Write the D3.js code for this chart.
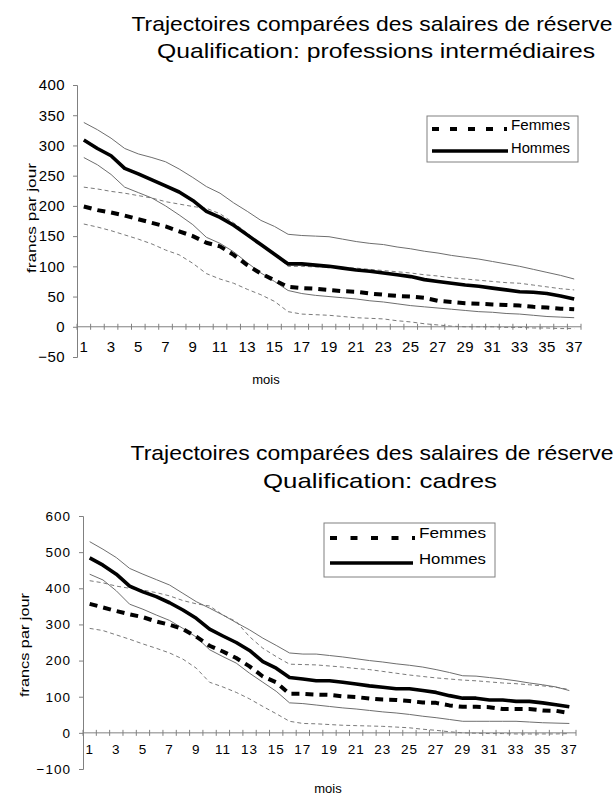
<!DOCTYPE html>
<html>
<head>
<meta charset="utf-8">
<script src="https://cdn.jsdelivr.net/npm/d3@7/dist/d3.min.js"></script>
<style>
  html, body { margin: 0; padding: 0; background: #fff; }
  svg { display: block; font-family: "Liberation Sans", Arial, sans-serif; }
</style>
</head>
<body>
<svg id="chart" width="614" height="798"></svg>
<script>
// Months since the start of the unemployment spell
const mois = d3.range(1, 38);

// Professions intermédiaires: mean reservation wage and confidence bounds (francs per day)
const intHommesMoy  = [309,295,283,262,253,243,233,223,209,191,181,168,152,136,120,104,104,102,100,97,94,92,89,86,83,78,75,72,69,67,64,61,58,57,55,51,46];
const intHommesHaut = [338,326,312,295,286,280,273,261,247,232,221,205,191,176,166,153,151,150,149,145,141,138,136,132,129,125,122,118,115,112,108,104,100,95,90,85,79];
const intHommesBas  = [280,268,252,231,222,213,200,185,169,148,138,124,106,89,75,60,55,52,50,48,46,43,41,38,35,33,31,29,27,25,24,22,21,19,17,16,15];
const intFemmesMoy  = [199,193,189,184,178,172,166,158,150,139,133,119,102,88,77,66,64,63,61,59,58,55,53,51,50,48,43,41,39,38,37,36,35,33,32,30,29];
const intFemmesHaut = [231,228,224,221,217,213,207,203,199,196,187,172,155,137,119,100,100,99,99,98,97,95,93,91,89,86,84,81,79,77,75,73,72,69,66,63,61];
const intFemmesBas  = [170,165,159,152,145,137,127,119,105,88,79,72,62,53,42,25,21,20,19,17,15,14,13,10,8,5,3,1,0,0,0,-1,-1,-2,-2,-3,-3];

// Cadres
const cadHommesMoy  = [484,464,439,406,390,377,360,340,317,287,268,250,228,197,179,153,149,144,144,140,135,130,126,122,122,117,112,103,96,96,91,91,87,87,83,78,72];
const cadHommesHaut = [529,508,485,455,439,424,409,386,363,345,326,305,285,262,242,221,218,218,214,210,205,200,196,191,187,182,175,167,158,157,153,149,144,138,133,127,117];
const cadHommesBas  = [439,423,393,356,342,326,311,289,265,230,211,193,165,140,115,83,81,77,73,69,66,62,58,55,51,46,42,37,32,32,32,32,32,30,28,27,26];
const cadFemmesMoy  = [357,347,337,328,320,308,299,287,266,241,225,207,184,156,140,108,108,106,105,101,99,95,92,91,88,84,83,76,72,72,71,66,66,66,62,61,55];
const cadFemmesHaut = [421,415,406,400,395,388,379,366,357,351,326,308,266,234,211,190,189,188,185,182,178,175,170,165,160,156,152,149,146,144,141,138,136,133,130,126,120];
const cadFemmesBas  = [289,283,271,259,246,234,221,204,179,140,127,112,94,73,53,32,26,25,23,21,20,19,18,16,14,10,7,3,0,-1,-2,-2,-3,-3,-3,-3,-2];

const intYTicks = [-50,0,50,100,150,200,250,300,350,400];
const cadYTicks = [-100,0,100,200,300,400,500,600];

const titreLigne1 = "Trajectoires comparées des salaires de réserve";
const legendeNoms = ["Femmes", "Hommes"];

const svg = d3.select("#chart");

// Styles for the six curves of each panel
const styles = {
  bound:  { stroke: "#6e6e6e", width: 1,   dash: null },
  fbound: { stroke: "#7a7a7a", width: 1,   dash: "4,3" },
  hmean:  { stroke: "#000",    width: 3.6, dash: null },
  fmean:  { stroke: "#000",    width: 4,   dash: "8,6" }
};

function drawPanel(cfg) {
  const g = svg.append("g");
  const x = d3.scaleBand().domain(mois).range(cfg.xRange);
  const y = d3.scaleLinear().domain(cfg.yDomain).range(cfg.yRange);
  const cx = d => x(d) + x.bandwidth() / 2;

  // Titles
  cfg.titles.forEach(t => {
    const el = g.append("text").attr("x", t.x).attr("y", t.y)
      .attr("text-anchor", "middle").attr("font-size", t.size)
      .text(t.text);
    if (t.len) el.attr("textLength", t.len).attr("lengthAdjust", "spacingAndGlyphs");
  });

  // Y axis
  const yAxis = g.append("g")
    .attr("transform", `translate(${cfg.xRange[0]},0)`)
    .call(d3.axisLeft(y).tickValues(cfg.yTicks).tickSize(4).tickPadding(8).tickFormat(d3.format("d")));
  yAxis.select(".domain").attr("stroke", "#808080");
  yAxis.selectAll(".tick line").attr("stroke", "#808080");
  yAxis.selectAll(".tick text")
    .attr("font-size", cfg.tickSize).attr("letter-spacing", cfg.tickSpacing)
    .attr("fill", "#000").attr("font-family", "Liberation Sans, Arial, sans-serif");

  // Category axis drawn at zero
  const y0 = y(0);
  g.append("line")
    .attr("x1", cfg.xRange[0]).attr("x2", cfg.xRange[1])
    .attr("y1", y0).attr("y2", y0)
    .attr("stroke", "#808080").attr("stroke-width", 1);
  const bounds = mois.map(m => x(m)).concat([cfg.xRange[1]]);
  g.selectAll("line.xtick").data(bounds).join("line")
    .attr("class", "xtick")
    .attr("x1", d => d).attr("x2", d => d)
    .attr("y1", y0 - 3).attr("y2", y0 + 3)
    .attr("stroke", "#808080");
  g.selectAll("text.xlab").data(mois.filter(m => m % 2 === 1)).join("text")
    .attr("class", "xlab")
    .attr("x", d => cx(d)).attr("y", cfg.xLabelY)
    .attr("text-anchor", "middle")
    .attr("font-size", cfg.tickSize).attr("letter-spacing", cfg.tickSpacing)
    .text(d => d);

  // Axis titles
  g.append("text")
    .attr("transform", `translate(${cfg.yTitle.x},${cfg.yTitle.y}) rotate(-90)`)
    .attr("text-anchor", "middle").attr("dominant-baseline", "middle")
    .attr("font-size", cfg.yTitle.size)
    .attr("textLength", cfg.yTitle.len).attr("lengthAdjust", "spacingAndGlyphs")
    .text("francs par jour");
  g.append("text")
    .attr("x", cfg.xTitle.x).attr("y", cfg.xTitle.y)
    .attr("text-anchor", "middle").attr("font-size", cfg.xTitle.size)
    .text("mois");

  // Curves
  const line = d3.line().x((d, i) => cx(mois[i])).y(d => y(d));
  cfg.series.forEach(s => {
    const st = styles[s.style];
    g.append("path").datum(s.values)
      .attr("d", line)
      .attr("fill", "none")
      .attr("stroke", st.stroke)
      .attr("stroke-width", st.width)
      .attr("stroke-dasharray", st.dash)
      .attr("stroke-linejoin", "round");
  });

  // Legend
  const L = cfg.legend;
  g.append("rect")
    .attr("x", L.x).attr("y", L.y).attr("width", L.w).attr("height", L.h)
    .attr("fill", "#fff").attr("stroke", "#808080").attr("stroke-width", 1);
  g.append("line")
    .attr("x1", L.sx1).attr("x2", L.sx2f).attr("y1", L.fy).attr("y2", L.fy)
    .attr("stroke", "#000").attr("stroke-width", 4).attr("stroke-dasharray", L.dash);
  g.append("line")
    .attr("x1", L.sx1).attr("x2", L.sx2h).attr("y1", L.hy).attr("y2", L.hy)
    .attr("stroke", "#000").attr("stroke-width", 3.6);
  g.append("text").attr("x", L.tx).attr("y", L.fBase)
    .attr("font-size", L.size).attr("textLength", L.len).attr("lengthAdjust", "spacingAndGlyphs")
    .text(legendeNoms[0]);
  g.append("text").attr("x", L.tx).attr("y", L.hBase)
    .attr("font-size", L.size).attr("textLength", L.len).attr("lengthAdjust", "spacingAndGlyphs")
    .text(legendeNoms[1]);
}

drawPanel({
  xRange: [77, 581], yDomain: [-50, 400], yRange: [357, 85], yTicks: intYTicks,
  tickSize: 15, tickSpacing: 0.4, xLabelY: 352,
  titles: [
    { text: titreLigne1, x: 372, y: 31, size: 21, len: 481 },
    { text: "Qualification: professions intermédiaires", x: 376, y: 58, size: 21, len: 438 }
  ],
  yTitle: { x: 33, y: 218, size: 13, len: 110 },
  xTitle: { x: 266, y: 384, size: 13 },
  series: [
    { style: "fbound", values: intFemmesHaut },
    { style: "fbound", values: intFemmesBas },
    { style: "bound",  values: intHommesHaut },
    { style: "bound",  values: intHommesBas },
    { style: "fmean",  values: intFemmesMoy },
    { style: "hmean",  values: intHommesMoy }
  ],
  legend: { x: 427, y: 116, w: 151, h: 46, sx1: 432, sx2f: 507, sx2h: 508, fy: 129, hy: 151,
            dash: "7,11", tx: 511, fBase: 130, hBase: 153, size: 15, len: 59 }
});

drawPanel({
  xRange: [83, 576], yDomain: [-100, 600], yRange: [769, 516], yTicks: cadYTicks,
  tickSize: 13.5, tickSpacing: 1, xLabelY: 754,
  titles: [
    { text: titreLigne1, x: 372, y: 460, size: 21, len: 483 },
    { text: "Qualification: cadres", x: 380, y: 488, size: 21, len: 234 }
  ],
  yTitle: { x: 25.5, y: 645, size: 12, len: 104 },
  xTitle: { x: 328, y: 793, size: 13 },
  series: [
    { style: "fbound", values: cadFemmesHaut },
    { style: "fbound", values: cadFemmesBas },
    { style: "bound",  values: cadHommesHaut },
    { style: "bound",  values: cadHommesBas },
    { style: "fmean",  values: cadFemmesMoy },
    { style: "hmean",  values: cadHommesMoy }
  ],
  legend: { x: 324, y: 523, w: 171, h: 54, sx1: 330, sx2f: 415, sx2h: 413, fy: 538, hy: 563,
            dash: "7,13.5", tx: 419, fBase: 538, hBase: 564, size: 15, len: 67 }
});
</script>
</body>
</html>
